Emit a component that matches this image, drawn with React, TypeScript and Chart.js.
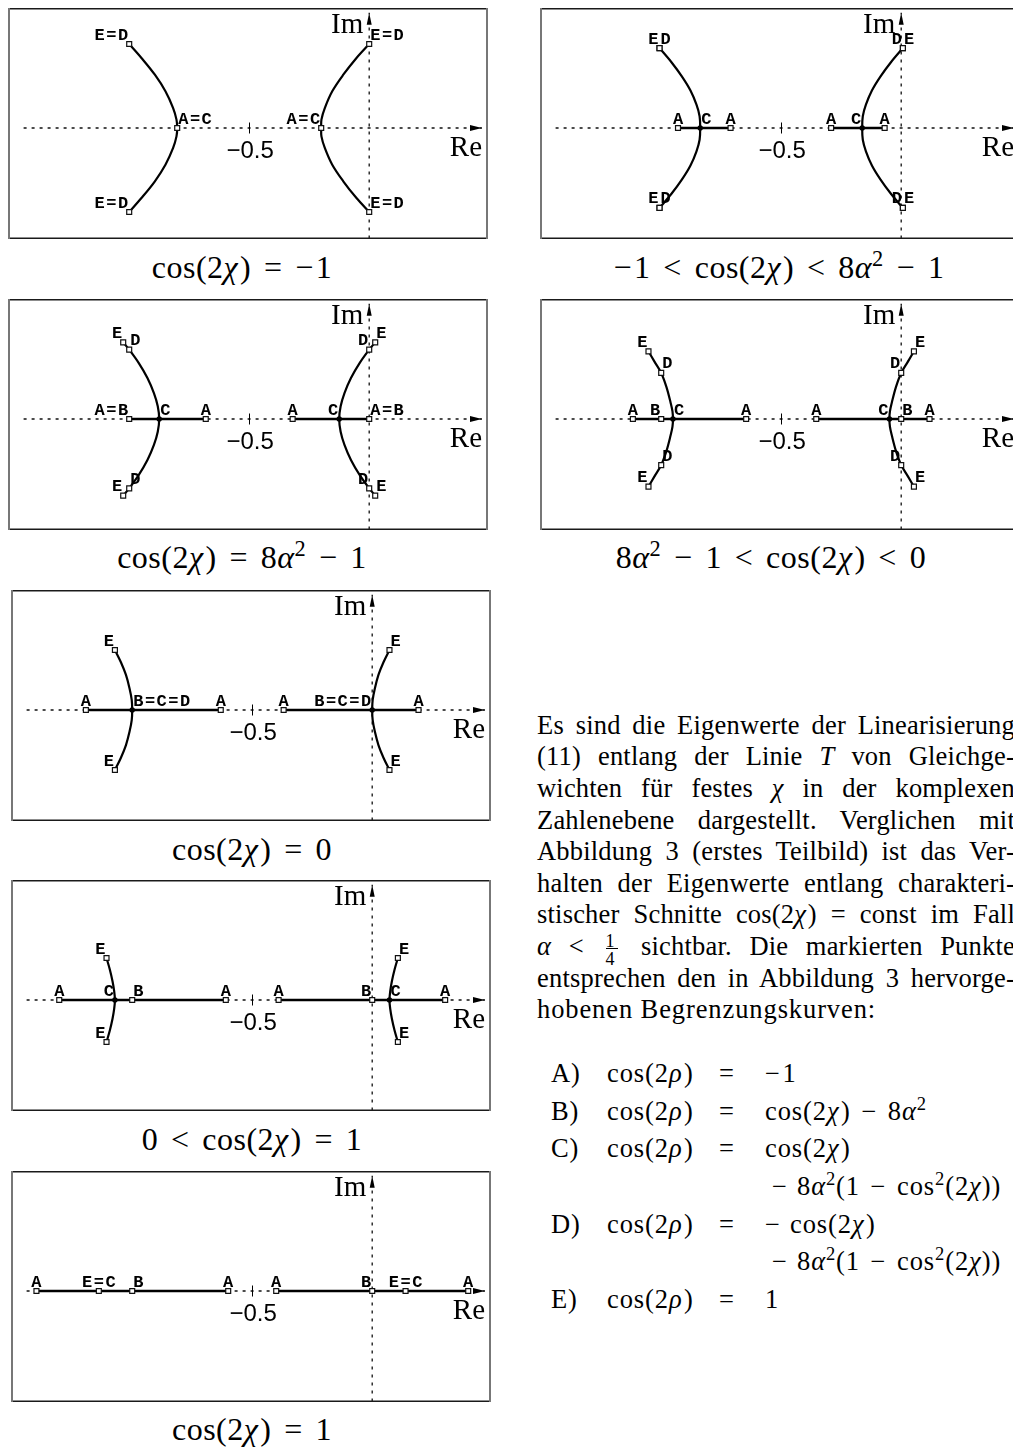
import React, { useEffect, useRef } from 'react';
import { Chart, registerables } from 'chart.js';

Chart.register(...registerables);

type Pt = [number, number]; // [Re, Im]
type Side = 'L' | 'R' | 'C';
type Mark = { t: string; re: number; im: number; side: Side; dot?: boolean };

// Window of every complex plane and its dotted axes
const RE_RANGE: Pt = [-1.505, 0.495];
const IM_RANGE: Pt = [-0.4625, 0.5];
const RE_AXIS: Pt = [-1.44, 0.47];
const IM_AXIS: Pt = [-0.46, 0.48];
const RE_TICK = -0.5;
const RE_TICK_LABEL = '\u22120.5';

// Upper branches (from the end point down to the real axis); the lower
// branches are the complex conjugates.

// cos(2χ) = −1
const p1Left: Pt[] = [[-1.0, 0.35], [-0.949, 0.292], [-0.893, 0.222], [-0.849, 0.153], [-0.817, 0.083], [-0.803, 0.035], [-0.8, 0]];
const p1Right: Pt[] = [[0.0, 0.35], [-0.053, 0.292], [-0.108, 0.222], [-0.154, 0.153], [-0.185, 0.083], [-0.199, 0.035], [-0.2, 0]];
const p1Segments: Pt[] = [];
const p1Marks: Mark[] = [
  { t: 'E=D', re: -1.0, im: 0.35, side: 'R' },
  { t: 'A=C', re: -0.8, im: 0, side: 'L' },
  { t: 'A=C', re: -0.2, im: 0, side: 'R' },
  { t: 'E=D', re: 0.0, im: 0.35, side: 'L' },
];

// −1 < cos(2χ) < 8α² − 1
const p2Left: Pt[] = [[-1.007, 0.333], [-0.958, 0.275], [-0.914, 0.215], [-0.878, 0.156], [-0.853, 0.097], [-0.84, 0.049], [-0.8375, 0]];
const p2Right: Pt[] = [[0.007, 0.333], [-0.042, 0.275], [-0.086, 0.215], [-0.122, 0.156], [-0.147, 0.097], [-0.16, 0.049], [-0.1625, 0]];
const p2Segments: Pt[] = [[-0.93, -0.711], [-0.292, -0.069]];
const p2Marks: Mark[] = [
  { t: 'E', re: -1.007, im: 0.333, side: 'R' },
  { t: 'D', re: -1.007, im: 0.333, side: 'L' },
  { t: 'A', re: -0.93, im: 0, side: 'C' },
  { t: 'C', re: -0.8375, im: 0, side: 'L', dot: true },
  { t: 'A', re: -0.711, im: 0, side: 'C' },
  { t: 'A', re: -0.292, im: 0, side: 'C' },
  { t: 'C', re: -0.1625, im: 0, side: 'R', dot: true },
  { t: 'A', re: -0.069, im: 0, side: 'C' },
  { t: 'D', re: 0.007, im: 0.333, side: 'R' },
  { t: 'E', re: 0.007, im: 0.333, side: 'L' },
];

// cos(2χ) = 8α² − 1
const p3Left: Pt[] = [[-1.025, 0.319], [-1.0, 0.289], [-0.96, 0.233], [-0.924, 0.171], [-0.897, 0.108], [-0.881, 0.053], [-0.875, 0]];
const p3Right: Pt[] = [[0.025, 0.319], [0.0, 0.289], [-0.04, 0.233], [-0.076, 0.171], [-0.103, 0.108], [-0.119, 0.053], [-0.125, 0]];
const p3Segments: Pt[] = [[-1.0, -0.681], [-0.319, 0.0]];
const p3Marks: Mark[] = [
  { t: 'E', re: -1.025, im: 0.319, side: 'R' },
  { t: 'D', re: -1.0, im: 0.289, side: 'L' },
  { t: 'A=B', re: -1.0, im: 0, side: 'R' },
  { t: 'C', re: -0.875, im: 0, side: 'L', dot: true },
  { t: 'A', re: -0.681, im: 0, side: 'C' },
  { t: 'A', re: -0.319, im: 0, side: 'C' },
  { t: 'C', re: -0.125, im: 0, side: 'R', dot: true },
  { t: 'A=B', re: 0.0, im: 0, side: 'L' },
  { t: 'D', re: 0.0, im: 0.289, side: 'R' },
  { t: 'E', re: 0.025, im: 0.319, side: 'L' },
];

// 8α² − 1 < cos(2χ) < 0
const p4Left: Pt[] = [[-1.053, 0.282], [-1.028, 0.239], [-1.0, 0.192], [-0.978, 0.133], [-0.961, 0.069], [-0.953, 0.032], [-0.951, 0]];
const p4Right: Pt[] = [[0.053, 0.282], [0.028, 0.239], [0.0, 0.192], [-0.022, 0.133], [-0.039, 0.069], [-0.047, 0.032], [-0.049, 0]];
const p4Segments: Pt[] = [[-1.118, -0.646], [-0.354, 0.118]];
const p4Marks: Mark[] = [
  { t: 'E', re: -1.053, im: 0.282, side: 'R' },
  { t: 'D', re: -1.0, im: 0.192, side: 'L' },
  { t: 'A', re: -1.118, im: 0, side: 'C' },
  { t: 'B', re: -1.0, im: 0, side: 'R' },
  { t: 'C', re: -0.951, im: 0, side: 'L', dot: true },
  { t: 'A', re: -0.646, im: 0, side: 'C' },
  { t: 'A', re: -0.354, im: 0, side: 'C' },
  { t: 'C', re: -0.049, im: 0, side: 'R', dot: true },
  { t: 'B', re: 0.0, im: 0, side: 'L' },
  { t: 'A', re: 0.118, im: 0, side: 'C' },
  { t: 'D', re: 0.0, im: 0.192, side: 'R' },
  { t: 'E', re: 0.053, im: 0.282, side: 'L' },
];

// cos(2χ) = 0
const p5Left: Pt[] = [[-1.072, 0.25], [-1.047, 0.199], [-1.026, 0.146], [-1.011, 0.09], [-1.002, 0.042], [-1.0, 0]];
const p5Right: Pt[] = [[0.072, 0.25], [0.047, 0.199], [0.026, 0.146], [0.011, 0.09], [0.002, 0.042], [0.0, 0]];
const p5Segments: Pt[] = [[-1.193, -0.631], [-0.369, 0.193]];
const p5Marks: Mark[] = [
  { t: 'E', re: -1.072, im: 0.25, side: 'R' },
  { t: 'A', re: -1.193, im: 0, side: 'C' },
  { t: 'B=C=D', re: -1.0, im: 0, side: 'L', dot: true },
  { t: 'A', re: -0.631, im: 0, side: 'C' },
  { t: 'A', re: -0.369, im: 0, side: 'C' },
  { t: 'B=C=D', re: 0.0, im: 0, side: 'R', dot: true },
  { t: 'A', re: 0.193, im: 0, side: 'C' },
  { t: 'E', re: 0.072, im: 0.25, side: 'L' },
];

// 0 < cos(2χ) = 1
const p6Left: Pt[] = [[-1.107, 0.175], [-1.093, 0.126], [-1.082, 0.078], [-1.075, 0.036], [-1.072, 0]];
const p6Right: Pt[] = [[0.107, 0.175], [0.093, 0.126], [0.082, 0.078], [0.075, 0.036], [0.072, 0]];
const p6Segments: Pt[] = [[-1.304, -0.61], [-0.39, 0.304]];
const p6Marks: Mark[] = [
  { t: 'E', re: -1.107, im: 0.175, side: 'R' },
  { t: 'A', re: -1.304, im: 0, side: 'C' },
  { t: 'C', re: -1.072, im: 0, side: 'R', dot: true },
  { t: 'B', re: -1.0, im: 0, side: 'L' },
  { t: 'A', re: -0.61, im: 0, side: 'C' },
  { t: 'A', re: -0.39, im: 0, side: 'C' },
  { t: 'B', re: 0.0, im: 0, side: 'R' },
  { t: 'C', re: 0.072, im: 0, side: 'L', dot: true },
  { t: 'A', re: 0.304, im: 0, side: 'C' },
  { t: 'E', re: 0.107, im: 0.175, side: 'L' },
];

// cos(2χ) = 1
const p7Segments: Pt[] = [[-1.399, -0.6], [-0.4, 0.4]];
const p7Marks: Mark[] = [
  { t: 'A', re: -1.399, im: 0, side: 'C' },
  { t: 'E=C', re: -1.139, im: 0, side: 'C' },
  { t: 'B', re: -1.0, im: 0, side: 'L' },
  { t: 'A', re: -0.6, im: 0, side: 'C' },
  { t: 'A', re: -0.4, im: 0, side: 'C' },
  { t: 'B', re: 0.0, im: 0, side: 'R' },
  { t: 'E=C', re: 0.139, im: 0, side: 'C' },
  { t: 'A', re: 0.4, im: 0, side: 'C' },
];

type PanelSpec = { branches: Pt[][]; segments: Pt[]; marks: Mark[] };

const PANELS: PanelSpec[] = [
  { branches: [p1Left, p1Right], segments: p1Segments, marks: p1Marks },
  { branches: [p2Left, p2Right], segments: p2Segments, marks: p2Marks },
  { branches: [p3Left, p3Right], segments: p3Segments, marks: p3Marks },
  { branches: [p4Left, p4Right], segments: p4Segments, marks: p4Marks },
  { branches: [p5Left, p5Right], segments: p5Segments, marks: p5Marks },
  { branches: [p6Left, p6Right], segments: p6Segments, marks: p6Marks },
  { branches: [], segments: p7Segments, marks: p7Marks },
];

const PANEL_POS = [
  { left: 8, top: 8 }, { left: 540, top: 8 },
  { left: 8, top: 299 }, { left: 540, top: 299 },
  { left: 11, top: 590 }, { left: 11, top: 880 }, { left: 11, top: 1171 },
];
const PANEL_W = 480;
const PANEL_H = 231;

const LABEL_PITCH = 11.7;
const LABEL_FONT = 'bold 17px "Liberation Mono", "DejaVu Sans Mono", monospace';

function withConjugates(marks: Mark[]): Mark[] {
  const out: Mark[] = [];
  marks.forEach((m) => {
    out.push(m);
    if (m.im > 0) out.push({ ...m, im: -m.im });
  });
  return out;
}

function fullPath(upper: Pt[]) {
  const down = upper.slice(0, -1).reverse().map(([re, im]) => ({ x: re, y: -im }));
  return [...upper.map(([re, im]) => ({ x: re, y: im })), ...down];
}

function decor(spec: PanelSpec) {
  const marks = withConjugates(spec.marks);
  return {
    id: 'planeDecor',
    afterDatasetsDraw(chart: any) {
      const { ctx, scales } = chart;
      const X = (v: number) => scales.x.getPixelForValue(v);
      const Y = (v: number) => scales.y.getPixelForValue(v);
      const x0 = X(0);
      const y0 = Y(0);
      ctx.save();
      ctx.fillStyle = '#000';
      ctx.strokeStyle = '#000';
      // arrow heads
      const xt = X(RE_AXIS[1]);
      ctx.beginPath();
      ctx.moveTo(xt, y0);
      ctx.lineTo(xt - 12, y0 - 3);
      ctx.lineTo(xt - 12, y0 + 3);
      ctx.closePath();
      ctx.fill();
      const yt = Y(IM_AXIS[1]);
      ctx.beginPath();
      ctx.moveTo(x0, yt);
      ctx.lineTo(x0 - 2.5, yt + 12);
      ctx.lineTo(x0 + 2.5, yt + 12);
      ctx.closePath();
      ctx.fill();
      // tick at −0.5
      const xm = X(RE_TICK);
      ctx.lineWidth = 1;
      ctx.beginPath();
      ctx.moveTo(Math.round(xm) + 0.5, y0 - 5.5);
      ctx.lineTo(Math.round(xm) + 0.5, y0 + 5.5);
      ctx.stroke();
      ctx.textBaseline = 'alphabetic';
      ctx.font = '24px "Liberation Sans"';
      ctx.textAlign = 'center';
      ctx.fillText(RE_TICK_LABEL, xm + 1, y0 + 30);
      ctx.font = '29px "Liberation Serif"';
      ctx.textAlign = 'right';
      ctx.fillText('Re', xt, y0 + 28);
      ctx.fillText('Im', x0 - 6, yt + 20);
      // point labels
      ctx.font = LABEL_FONT;
      ctx.textAlign = 'center';
      marks.forEach((m) => {
        const px = X(m.re);
        const py = Y(m.im);
        const w = m.t.length * LABEL_PITCH - 1.5;
        const start = m.side === 'L' ? px + 1 : m.side === 'R' ? px - 1 - w : px - w / 2;
        for (let i = 0; i < m.t.length; i++) {
          ctx.fillText(m.t[i], start + i * LABEL_PITCH + (LABEL_PITCH - 1.5) / 2, py - 4.5);
        }
      });
      ctx.restore();
    },
    afterDraw(chart: any) {
      const { ctx, chartArea: a } = chart;
      ctx.save();
      ctx.lineWidth = 1.5;
      ctx.strokeStyle = '#1a1a1a';
      ctx.beginPath();
      ctx.moveTo(a.left, a.top + 0.75);
      ctx.lineTo(a.right, a.top + 0.75);
      ctx.moveTo(a.left, a.bottom - 0.75);
      ctx.lineTo(a.right, a.bottom - 0.75);
      ctx.stroke();
      ctx.strokeStyle = '#777';
      ctx.lineWidth = 2;
      ctx.beginPath();
      ctx.moveTo(a.left + 1, a.top);
      ctx.lineTo(a.left + 1, a.bottom);
      ctx.moveTo(a.right - 1, a.top);
      ctx.lineTo(a.right - 1, a.bottom);
      ctx.stroke();
      ctx.restore();
    },
  };
}

function buildConfig(spec: PanelSpec): any {
  const marks = withConjugates(spec.marks);
  const dotData = marks.filter((m) => m.dot).map((m) => ({ x: m.re, y: m.im }));
  const squareData = marks.filter((m) => !m.dot).map((m) => ({ x: m.re, y: m.im }));
  const line = { showLine: true, pointRadius: 0, borderColor: '#000', fill: false };
  const datasets: any[] = [
    { data: dotData, pointStyle: 'circle', pointRadius: 2.7, backgroundColor: '#000', borderColor: '#000', borderWidth: 0 },
    { data: squareData, pointStyle: 'rect', pointRadius: 3.5, backgroundColor: '#fff', borderColor: '#111', borderWidth: 1.2 },
  ];
  spec.segments.forEach(([a, b]) => {
    datasets.push({ ...line, data: [{ x: a, y: 0 }, { x: b, y: 0 }], borderWidth: 2.5 });
  });
  spec.branches.forEach((br) => {
    datasets.push({ ...line, data: fullPath(br), borderWidth: 2.2, tension: 0.35 });
  });
  datasets.push({ ...line, data: [{ x: RE_AXIS[0], y: 0 }, { x: RE_AXIS[1], y: 0 }], borderWidth: 1.3, borderColor: '#111', borderDash: [3, 5] });
  datasets.push({ ...line, data: [{ x: 0, y: IM_AXIS[0] }, { x: 0, y: IM_AXIS[1] }], borderWidth: 1.3, borderColor: '#111', borderDash: [3, 5] });

  return {
    type: 'scatter',
    data: { datasets },
    options: {
      responsive: false,
      maintainAspectRatio: false,
      animation: false,
      events: [],
      layout: { padding: 0, autoPadding: false },
      scales: {
        x: { type: 'linear', min: RE_RANGE[0], max: RE_RANGE[1], display: false },
        y: { type: 'linear', min: IM_RANGE[0], max: IM_RANGE[1], display: false },
      },
      plugins: { legend: { display: false }, tooltip: { enabled: false } },
    },
    plugins: [decor(spec)],
  };
}

function Plane({ spec, left, top }: { spec: PanelSpec; left: number; top: number }) {
  const ref = useRef<HTMLCanvasElement>(null);
  useEffect(() => {
    const chart = new Chart(ref.current as HTMLCanvasElement, buildConfig(spec));
    let alive = true;
    (document as any).fonts?.ready.then(() => {
      if (alive) chart.update();
    });
    return () => {
      alive = false;
      chart.destroy();
    };
  }, [spec]);
  return (
    <canvas
      ref={ref}
      width={PANEL_W}
      height={PANEL_H}
      style={{ position: 'absolute', left, top, width: PANEL_W, height: PANEL_H }}
    />
  );
}

// ---- typeset text -------------------------------------------------------

const SERIF = '"Liberation Serif", "Times New Roman", serif';

const Rel = ({ c }: { c: string }) => <span style={{ margin: '0 0.4em' }}>{c}</span>;
const Neg = () => <span style={{ marginRight: '0.06em' }}>{'\u2212'}</span>;
const Sup = ({ children }: { children: React.ReactNode }) => (
  <sup style={{ fontSize: '0.7em', verticalAlign: '0.55em', lineHeight: 0 }}>{children}</sup>
);
const Cos = ({ v }: { v: string }) => (
  <>
    cos(2<i style={{ marginRight: '0.06em' }}>{v}</i>)
  </>
);
const A2 = () => (
  <>
    8<i>α</i>
    <Sup>2</Sup>
  </>
);

const CAPTIONS: { x: number; baseline: number; body: React.ReactNode }[] = [
  { x: 242, baseline: 278, body: <><Cos v="χ" /><Rel c="=" /><Neg />1</> },
  { x: 779, baseline: 278, body: <><Neg />1<Rel c="<" /><Cos v="χ" /><Rel c="<" /><A2 /><Rel c={'\u2212'} />1</> },
  { x: 242, baseline: 568, body: <><Cos v="χ" /><Rel c="=" /><A2 /><Rel c={'\u2212'} />1</> },
  { x: 771, baseline: 568, body: <><A2 /><Rel c={'\u2212'} />1<Rel c="<" /><Cos v="χ" /><Rel c="<" />0</> },
  { x: 252, baseline: 860, body: <><Cos v="χ" /><Rel c="=" />0</> },
  { x: 252, baseline: 1150, body: <>0<Rel c="<" /><Cos v="χ" /><Rel c="=" />1</> },
  { x: 252, baseline: 1440, body: <><Cos v="χ" /><Rel c="=" />1</> },
];
const CAPTION_SIZE = 32;

const Quarter = () => (
  <span style={{ display: 'inline-block', position: 'relative', width: 14, height: 0, margin: '0 0.15em' }}>
    <span style={{ position: 'absolute', left: 0, width: 14, textAlign: 'center', bottom: 5, fontSize: 18, lineHeight: '18px' }}>1</span>
    <span style={{ position: 'absolute', left: 1, width: 12, bottom: 6, borderTop: '1px solid #000' }} />
    <span style={{ position: 'absolute', left: 0, width: 14, textAlign: 'center', bottom: -13, fontSize: 18, lineHeight: '18px' }}>4</span>
  </span>
);

const PARAGRAPH: React.ReactNode[] = [
  <>Es sind die Eigenwerte der Linearisierung</>,
  <>(11) entlang der Linie <i>T</i> von Gleichge-</>,
  <>wichten für festes <i>χ</i> in der komplexen</>,
  <>Zahlenebene dargestellt. Verglichen mit</>,
  <>Abbildung 3 (erstes Teilbild) ist das Ver-</>,
  <>halten der Eigenwerte entlang charakteri-</>,
  <>stischer Schnitte <Cos v="χ" /> = const im Fall</>,
  <><i>α</i> &lt; <Quarter /> sichtbar. Die markierten Punkte</>,
  <>entsprechen den in Abbildung 3 hervorge-</>,
  <>hobenen Begrenzungskurven:</>,
];
const PARA_LEFT = 537;
const PARA_WIDTH = 478;
const PARA_FIRST_BASELINE = 734;
const PARA_LEADING = 31.6;
const TEXT_SIZE = 26.5;
const TEXT_TRACKING = '0.9px';
const JUSTIFIED_TRACKING = '0.2px';

const CONT = <><Neg /> <A2 />(1<Rel c={'\u2212'} />cos<Sup>2</Sup>(2<i>χ</i>))</>;
const LIST_ROWS: { tag: string; rhs: React.ReactNode; cont?: boolean }[] = [
  { tag: 'A)', rhs: <><Neg />1</> },
  { tag: 'B)', rhs: <><Cos v="χ" /><Rel c={'\u2212'} /><A2 /></> },
  { tag: 'C)', rhs: <Cos v="χ" /> },
  { tag: '', rhs: CONT, cont: true },
  { tag: 'D)', rhs: <><Neg /> <Cos v="χ" /></> },
  { tag: '', rhs: CONT, cont: true },
  { tag: 'E)', rhs: <>1</> },
];
const LIST_FIRST_BASELINE = 1082;
const LIST_LEADING = 37.7;

function TextLine({ left, baseline, size, children, width, justify }: any) {
  return (
    <div
      style={{
        position: 'absolute',
        left,
        top: baseline - 0.8375 * size,
        width,
        fontSize: size,
        lineHeight: `${size}px`,
        letterSpacing: justify ? JUSTIFIED_TRACKING : TEXT_TRACKING,
        whiteSpace: width ? 'normal' : 'nowrap',
        textAlign: justify ? 'justify' : 'left',
        textAlignLast: justify ? 'justify' : 'auto',
        fontFamily: SERIF,
        color: '#000',
      }}
    >
      {children}
    </div>
  );
}

export default function App() {
  return (
    <div
      style={{
        position: 'absolute',
        left: 0,
        top: 0,
        width: 1013,
        height: 1449,
        overflow: 'hidden',
        background: '#fff',
        fontFamily: SERIF,
      }}
    >
      {PANELS.map((p, i) => (
        <Plane key={i} spec={p} left={PANEL_POS[i].left} top={PANEL_POS[i].top} />
      ))}
      {CAPTIONS.map((c, i) => (
        <div
          key={'c' + i}
          style={{
            position: 'absolute',
            left: c.x,
            top: c.baseline - 0.8375 * CAPTION_SIZE,
            transform: 'translateX(-50%)',
            fontSize: CAPTION_SIZE,
            lineHeight: `${CAPTION_SIZE}px`,
            letterSpacing: '0.5px',
            whiteSpace: 'nowrap',
          }}
        >
          {c.body}
        </div>
      ))}
      {PARAGRAPH.map((line, i) => (
        <TextLine
          key={'p' + i}
          left={PARA_LEFT}
          baseline={PARA_FIRST_BASELINE + i * PARA_LEADING}
          size={TEXT_SIZE}
          width={PARA_WIDTH}
          justify={i < PARAGRAPH.length - 1}
        >
          {line}
        </TextLine>
      ))}
      {LIST_ROWS.map((r, i) => {
        const b = LIST_FIRST_BASELINE + i * LIST_LEADING;
        return (
          <React.Fragment key={'l' + i}>
            {r.tag && <TextLine left={551} baseline={b} size={TEXT_SIZE}>{r.tag}</TextLine>}
            {!r.cont && <TextLine left={607} baseline={b} size={TEXT_SIZE}><Cos v="ρ" /></TextLine>}
            {!r.cont && <TextLine left={719} baseline={b} size={TEXT_SIZE}>=</TextLine>}
            <TextLine left={r.cont ? 772 : 765} baseline={b} size={TEXT_SIZE}>{r.rhs}</TextLine>
          </React.Fragment>
        );
      })}
    </div>
  );
}
